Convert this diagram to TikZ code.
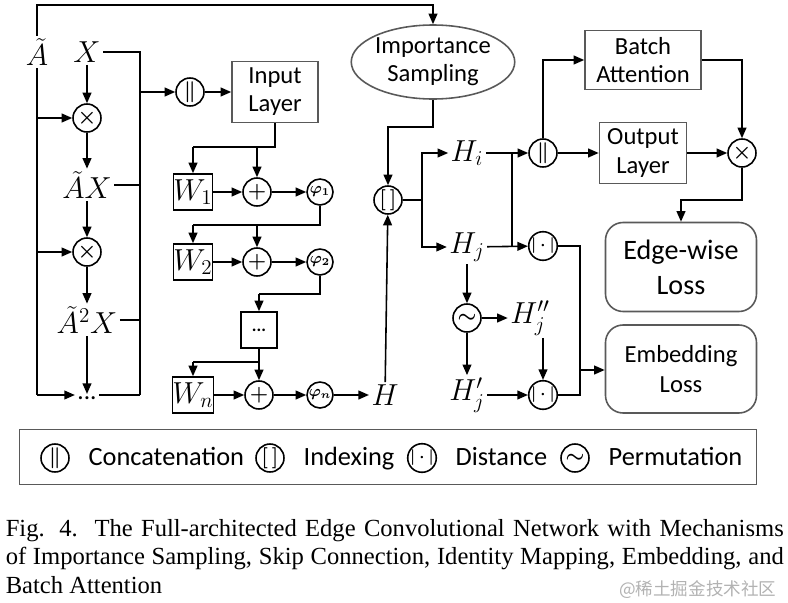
\documentclass[tikz,border=0pt]{standalone}
\usepackage{amsmath,amssymb}
\usepackage{fontspec}
\setmainfont{Liberation Serif}
\setsansfont{Carlito}
\newfontfamily\cjk{Noto Sans CJK SC}
\usetikzlibrary{arrows.meta,shapes.geometric,positioning}
\tikzset{
  op/.style={draw, circle, minimum size=0.56cm, inner sep=0pt, font=\large\boldmath},
  sop/.style={draw, circle, minimum size=0.52cm, inner sep=0pt, font=\small\boldmath},
  blk/.style={draw, gray!70!black, text=black, font=\sffamily\fontsize{14}{16}\selectfont, align=center, inner sep=2pt},
  loss/.style={draw, gray!70!black, text=black, rounded corners=10pt, font=\sffamily\fontsize{16}{20}\selectfont, align=center},
  var/.style={font=\fontsize{18}{22}\selectfont, inner sep=1pt},
  wbox/.style={draw, minimum width=34*0.02cm, minimum height=36*0.02cm, inner sep=0pt, font=\fontsize{18}{22}\selectfont},
  arr/.style={-{Triangle[length=6pt,width=5pt]}},
}
\begin{document}
\begin{tikzpicture}[x=0.02cm, y=-0.02cm, line width=0.9pt]
  \useasboundingbox (0,0) rectangle (788,602);
  % input side
  \node[var] (A) at (37,52) {$\tilde{A}$};
  \node[var] (X) at (87,52) {$X$};
  \node[op] (m1) at (87,118) {$\times$};
  \node[var] (AX) at (87,185) {$\tilde{A}X$};
  \node[op] (m2) at (87,252) {$\times$};
  \node[var] (A2X) at (87,320) {$\tilde{A}^2X$};
  \node[var, font=\sffamily\Large] (dots) at (87,398) {...};
  \draw[arr] (X) -- (m1);
  \draw[arr] (m1) -- (AX);
  \draw[arr] (AX) -- (m2);
  \draw[arr] (m2) -- (A2X);
  \draw[arr] (A2X) -- (dots);
  \draw (A.south) -- (37,395) coordinate (abot);
  \draw[arr] (37,118) -- (m1);
  \draw[arr] (37,252) -- (m2);
  \draw[arr] (abot) -- (dots.west |- abot);
  % concat bus
  \draw (X.east) -- (140,52) coordinate (bt) -- (140,395) coordinate (bb);
  \draw (AX.east) -- (AX.east -| bt);
  \draw (A2X.east) -- (A2X.east -| bt);
  \draw (dots.east |- bb) -- (bb);
  \node[op] (cat) at (190,92) {$\|$};
  \draw[arr] (140,92) -- (cat);
  \node[blk, minimum width=86*0.02cm, minimum height=61*0.02cm] (in) at (275,92) {Input\\Layer};
  \draw[arr] (cat) -- (in);
  % layers
  \node[wbox] (W1) at (193,192) {$W_1$};
  \node[op] (p1) at (257,192) {$+$};
  \node[sop] (f1) at (320,192) {$\varphi_{1}$};
  \node[wbox] (W2) at (193,262) {$W_2$};
  \node[op] (p2) at (257,262) {$+$};
  \node[sop] (f2) at (320,262) {$\varphi_{2}$};
  \node[draw, minimum width=36*0.02cm, minimum height=36*0.02cm, inner sep=0pt, font=\sffamily\bfseries] (ld) at (259,330) {...};
  \node[wbox] (Wn) at (193,395) {$W_n$};
  \node[op] (pn) at (259,395) {$+$};
  \node[sop] (fn) at (320,395) {$\varphi_{n}$};
  \node[var] (H) at (385,395) {$H$};
  \draw (in.south) -- (275,147) -- (193,147);
  \draw[arr] (193,147) -- (W1);
  \draw[arr] (257,147) -- (p1);
  \draw[arr] (W1) -- (p1);
  \draw[arr] (p1) -- (f1);
  \draw (f1.south) -- (320,225) -- (193,225);
  \draw[arr] (193,225) -- (W2);
  \draw[arr] (257,225) -- (p2);
  \draw[arr] (W2) -- (p2);
  \draw[arr] (p2) -- (f2);
  \draw (f2.south) -- (320,294) -- (259,294);
  \draw[arr] (259,294) -- (ld);
  \draw (ld.south) -- (259,362) -- (193,362);
  \draw[arr] (193,362) -- (Wn);
  \draw[arr] (259,362) -- (pn);
  \draw[arr] (Wn) -- (pn);
  \draw[arr] (pn) -- (fn);
  \draw[arr] (fn) -- (H);
  % sampling
  \node[draw, gray!70!black, text=black, ellipse, minimum width=154*0.02cm, minimum height=74*0.02cm, align=center, inner sep=0pt, font=\sffamily\fontsize{14}{16}\selectfont] (is) at (433,62) {Importance\\Sampling};
  \draw[arr] (A.north) -- (37,5) -- (433,5) -- (is.north);
  \node[op] (idx) at (388,200) {$[\,]$};
  \draw[arr] (is.south) -- (433,127) -- (388,127) -- (idx);
  \draw[arr] (H) -- (idx);
  \node[var] (Hi) at (467,153) {$H_i$};
  \node[var] (Hj) at (467,247) {$H_j$};
  \draw (idx) -- (422,200);
  \draw[arr] (422,200) |- (Hi);
  \draw[arr] (422,200) |- (Hj);
  % output side
  \node[op] (cat2) at (543,153) {$\|$};
  \node[sop] (d1) at (543,246) {$|\cdot|$};
  \draw[arr] (Hi) -- (cat2);
  \draw[arr] (Hj) -- (d1);
  \draw (512,153) -- (512,246);
  \node[blk, minimum width=116*0.02cm, minimum height=59*0.02cm] (ba) at (643,60) {Batch\\Attention};
  \node[blk, minimum width=87*0.02cm, minimum height=61*0.02cm] (out) at (643,153) {Output\\Layer};
  \node[op] (mul) at (742,153) {$\times$};
  \draw[arr] (cat2) |- (ba);
  \draw[arr] (cat2) -- (out);
  \draw[arr] (out) -- (mul);
  \draw[arr] (ba.east) -| (mul);
  \node[loss, minimum width=151*0.02cm, minimum height=89*0.02cm] (ew) at (681,267) {Edge-wise\\Loss};
  \draw[arr] (mul.south) -- (742,200) -| (ew.north);
  % embedding
  \node[op] (perm) at (467,318) {$\sim$};
  \node[var] (Hjj) at (530,318) {$H_j''$};
  \node[var] (Hj1) at (467,395) {$H_j'$};
  \node[sop] (d2) at (543,395) {$|\cdot|$};
  \draw[arr] (Hj) -- (perm);
  \draw[arr] (perm) -- (Hjj);
  \draw[arr] (perm) -- (Hj1);
  \draw[arr] (Hjj.south -| d2) -- (d2);
  \draw[arr] (Hj1) -- (d2);
  \node[loss, font=\sffamily\fontsize{14}{17}\selectfont, minimum width=151*0.02cm, minimum height=88*0.02cm] (el) at (681,369) {Embedding\\Loss};
  \draw (d1) -- (580,246) -- (580,395) -- (d2);
  \draw[arr] (580,370) -- (el.west |- 580,370);
  % legend
  \node[draw, gray!70!black, minimum width=737*0.02cm, minimum height=55*0.02cm] (leg) at (388,457) {};
  \tikzset{lg/.style={font=\sffamily\fontsize{15}{18}\selectfont, anchor=base west}}
  \node[op] (l1) at (55,458) {$\|$};
  \node[lg] (t1) at (82,465) {Concatenation};
  \node[op] (l2) at (270,458) {$[\,]$};
  \node[lg] (t2) at (297,465) {Indexing};
  \node[op, font=\small\boldmath] (l3) at (422,458) {$|\cdot|$};
  \node[lg] (t3) at (449,465) {Distance};
  \node[op] (l4) at (575,458) {$\sim$};
  \node[lg] (t4) at (602,465) {Permutation};
  % caption
  \node[anchor=north west, text width=778*0.02cm, align=justify, inner sep=0pt, font=\fontsize{14}{16}\selectfont] (cap) at (5,519)
    {Fig. 4.\ \ The Full-architected Edge Convolutional Network with Mechanisms of Importance Sampling, Skip Connection, Identity Mapping, Embedding, and Batch Attention};
  \node[anchor=east, text=gray!60, font=\cjk\fontsize{10}{12}\selectfont] (wm) at (783,590) {@稀土掘金技术社区};
\end{tikzpicture}
\end{document}
